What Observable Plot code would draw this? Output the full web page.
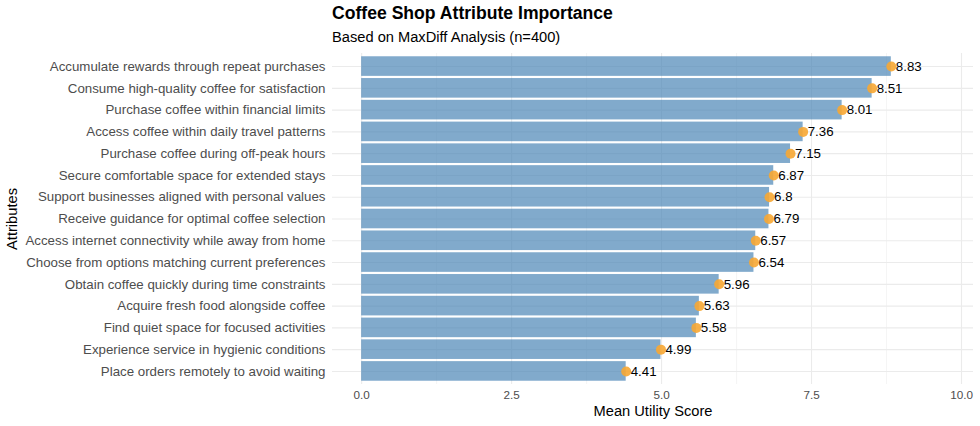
<!DOCTYPE html>
<html>
<head>
<meta charset="utf-8">
<script src="https://cdn.jsdelivr.net/npm/d3@7"></script>
<script src="https://cdn.jsdelivr.net/npm/@observablehq/plot@0.6"></script>
<style>
  html, body { margin: 0; padding: 0; background: #ffffff; }
  body { width: 980px; height: 426px; overflow: hidden; font-family: "Liberation Sans", Arial, sans-serif; }
  #header { position: relative; width: 980px; height: 50px; }
  #title { position: absolute; left: 332px; top: 5px; font-size: 17.6px; line-height: 1; font-weight: bold; color: #000; white-space: nowrap; }
  #subtitle { position: absolute; left: 332px; top: 29.5px; font-size: 14.67px; line-height: 1; color: #000; white-space: nowrap; }
  #chart svg { display: block; }
</style>
</head>
<body>
<div id="header">
  <div id="title">Coffee Shop Attribute Importance</div>
  <div id="subtitle">Based on MaxDiff Analysis (n=400)</div>
</div>
<div id="chart"></div>
<script>
const attributes = [
  "Accumulate rewards through repeat purchases",
  "Consume high-quality coffee for satisfaction",
  "Purchase coffee within financial limits",
  "Access coffee within daily travel patterns",
  "Purchase coffee during off-peak hours",
  "Secure comfortable space for extended stays",
  "Support businesses aligned with personal values",
  "Receive guidance for optimal coffee selection",
  "Access internet connectivity while away from home",
  "Choose from options matching current preferences",
  "Obtain coffee quickly during time constraints",
  "Acquire fresh food alongside coffee",
  "Find quiet space for focused activities",
  "Experience service in hygienic conditions",
  "Place orders remotely to avoid waiting"
];
const scores = [8.83, 8.51, 8.01, 7.36, 7.15, 6.87, 6.8, 6.79, 6.57, 6.54, 5.96, 5.63, 5.58, 4.99, 4.41];
const labels = ["8.83", "8.51", "8.01", "7.36", "7.15", "6.87", "6.8", "6.79", "6.57", "6.54", "5.96", "5.63", "5.58", "4.99", "4.41"];
const majorTicks = [0, 2.5, 5, 7.5, 10];
const minorTicks = [1.25, 3.75, 6.25, 8.75];
const xTitle = "Mean Utility Score";
const yTitle = "Attributes";

const data = attributes.map((a, i) => ({attribute: a, score: scores[i], label: labels[i]}));

const gridColor = "#ebebeb";

const chart = Plot.plot({
  width: 980,
  height: 376,
  marginTop: 3,
  marginBottom: 42,
  marginLeft: 332,
  marginRight: 7,
  style: {fontFamily: "Liberation Sans, Arial, sans-serif", background: "#ffffff"},
  x: {domain: [-0.486, 10.2], ticks: majorTicks},
  y: {domain: attributes, paddingInner: 0.1, paddingOuter: 0.15, align: 0.5, round: false},
  marks: [
    Plot.ruleX(minorTicks, {stroke: gridColor, strokeWidth: 0.55}),
    Plot.ruleX(majorTicks, {stroke: gridColor, strokeWidth: 1.1}),
    Plot.ruleY(attributes, {y: d => d, stroke: gridColor, strokeWidth: 1.1}),
    Plot.barX(data, {x: "score", y: "attribute", fill: "steelblue", fillOpacity: 0.68}),
    Plot.dot(data, {x: "score", y: "attribute", r: 5, fill: "#f7a733", fillOpacity: 0.9, stroke: "none"}),
    Plot.text(data, {x: "score", y: "attribute", text: "label", textAnchor: "start", dx: 4.5, fontSize: 13.3, fill: "#000000"}),
    Plot.axisX({ticks: majorTicks, tickFormat: d3.format(".1f"), tickSize: 0, tickPadding: 6, fontSize: 11.7, color: "#4d4d4d", label: null}),
    Plot.axisY({tickSize: 0, tickPadding: 7, fontSize: 13.3, color: "#4d4d4d", label: null}),
    Plot.text([xTitle], {frameAnchor: "bottom", textAnchor: "middle", lineAnchor: "middle", dy: 26.6, fontSize: 14.67, fill: "#000000"}),
    Plot.text([yTitle], {frameAnchor: "left", textAnchor: "middle", lineAnchor: "middle", dx: -320, rotate: -90, fontSize: 14.67, fill: "#000000"})
  ]
});
document.getElementById("chart").appendChild(chart);
</script>
</body>
</html>
